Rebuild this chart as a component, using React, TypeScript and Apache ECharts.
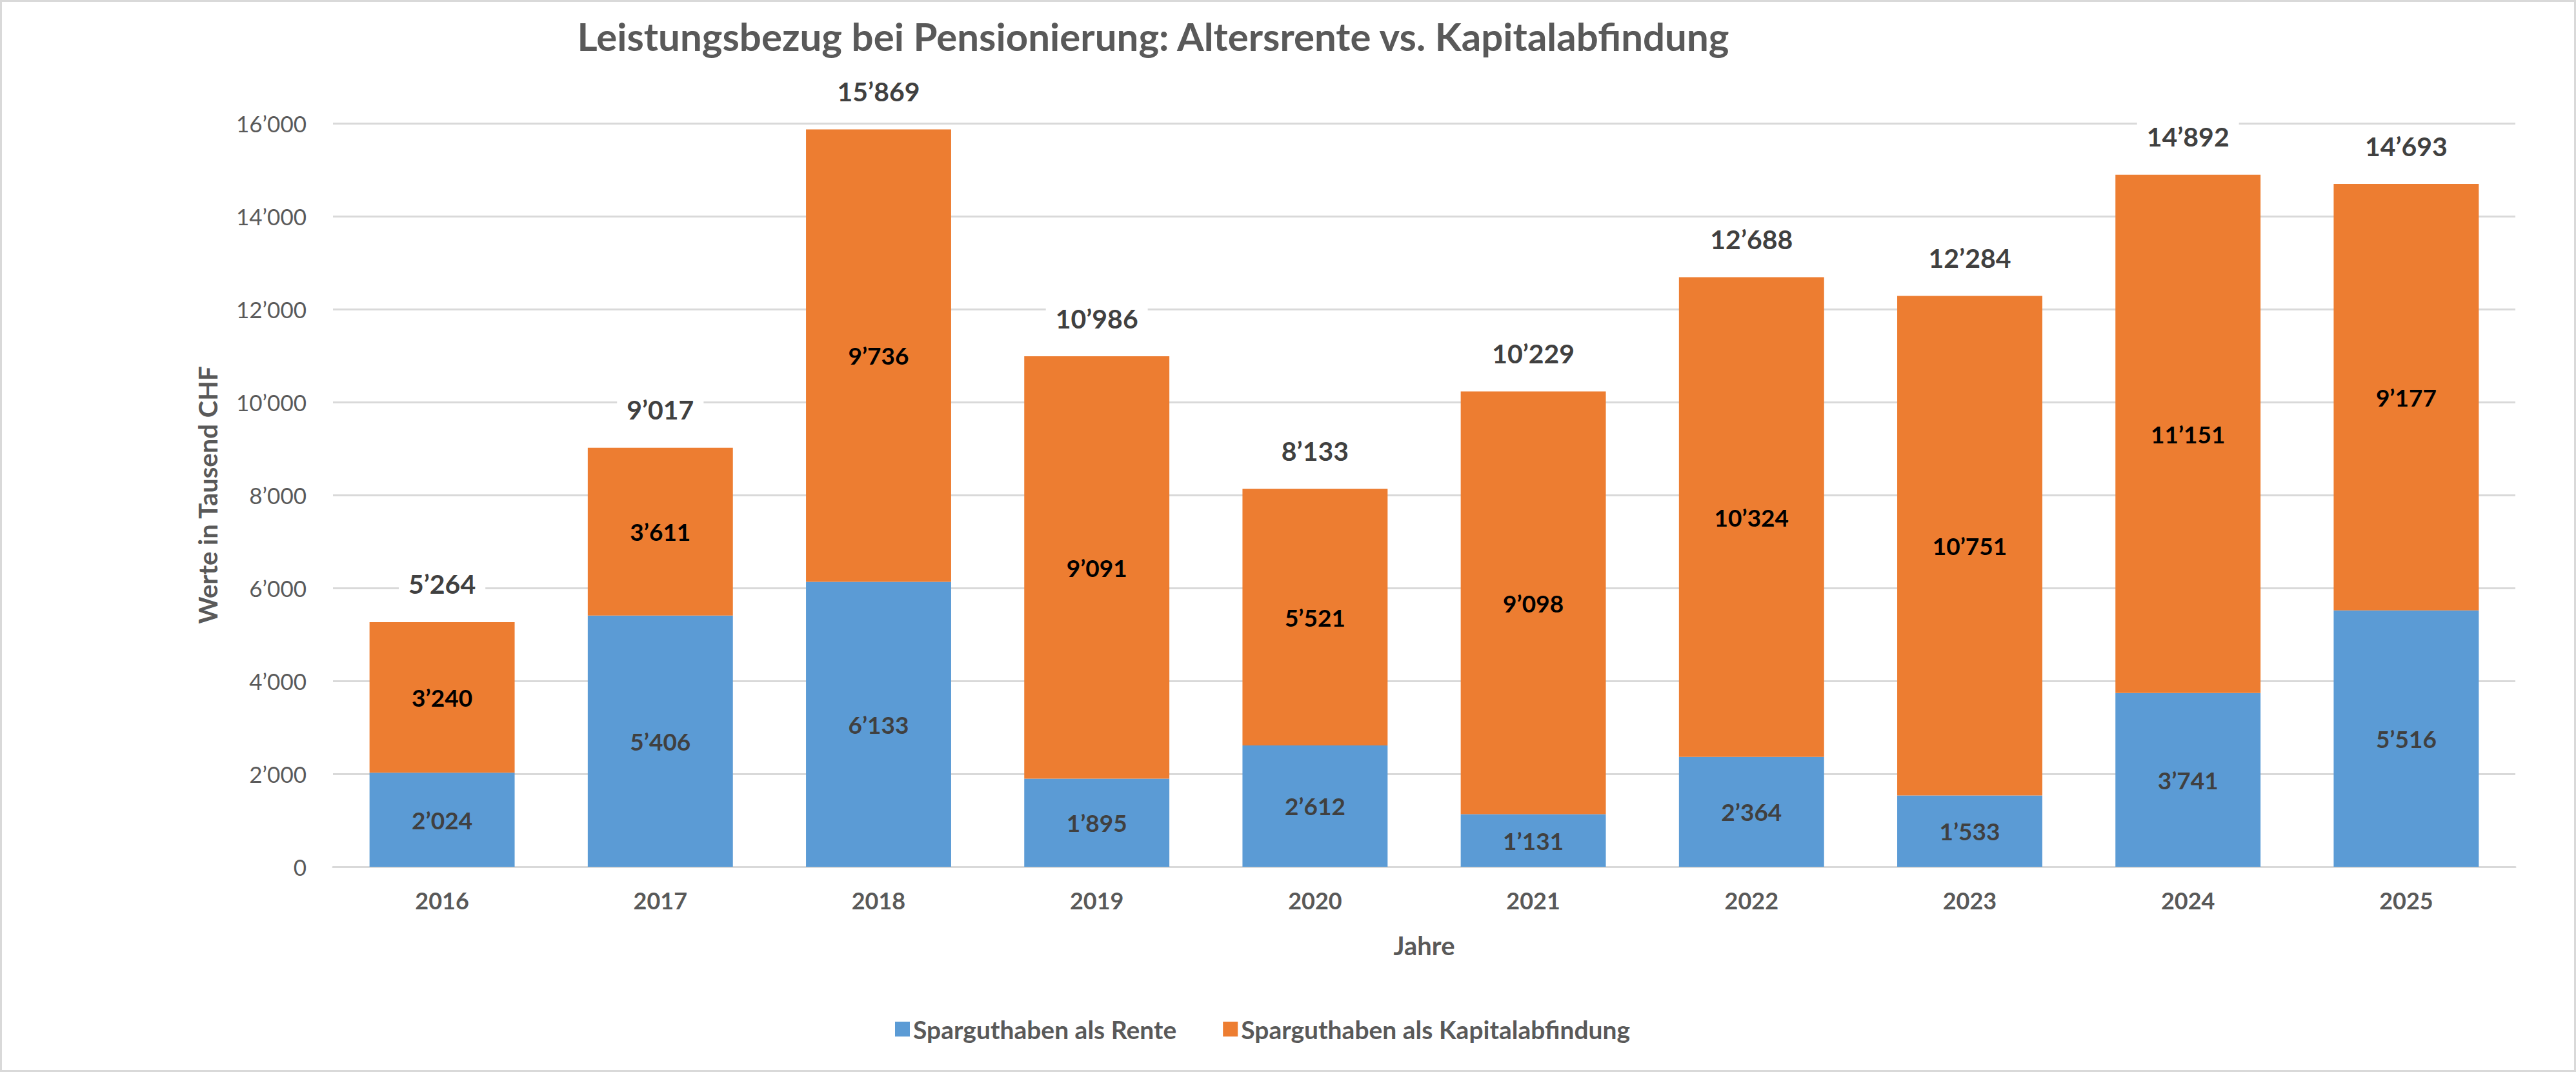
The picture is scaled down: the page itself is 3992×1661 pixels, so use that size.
import React, { useEffect, useRef } from "react";
import * as echarts from "echarts";

const years = ["2016", "2017", "2018", "2019", "2020", "2021", "2022", "2023", "2024", "2025"];
const rente = [2024, 5406, 6133, 1895, 2612, 1131, 2364, 1533, 3741, 5516];
const kapital = [3240, 3611, 9736, 9091, 5521, 9098, 10324, 10751, 11151, 9177];
const totals = rente.map((v, i) => v + kapital[i]);
const totalsCarrier = years.map(() => 0);

const yTicks = { min: 0, max: 16000, interval: 2000 };

const fmt = (v: number) => String(v).replace(/\B(?=(\d{3})+(?!\d))/g, "\u2019");

const FONT = "Lato, 'Open Sans', 'Noto Sans', sans-serif";
const AXIS_GREY = "#595959";
const LABEL_GREY = "#404040";

export default function App() {
  const ref = useRef<HTMLDivElement>(null);
  useEffect(() => {
    document.body.style.margin = "0";
    document.body.style.overflow = "hidden";
    const chart = echarts.init(ref.current!, undefined, { renderer: "svg" });
    chart.setOption({
      animation: false,
      backgroundColor: "#ffffff",
      title: {
        text: "Leistungsbezug bei Pensionierung: Altersrente vs. Kapitalabfindung",
        left: 1782,
        top: 51,
        textAlign: "center",
        textVerticalAlign: "middle",
        textStyle: { fontFamily: FONT, fontWeight: "bold", fontSize: 60, color: AXIS_GREY },
      },
      graphic: [
        {
          type: "rect",
          silent: true,
          shape: { x: 1.5, y: 1.5, width: 3989, height: 1658 },
          style: { fill: "none", stroke: "#d9d9d9", lineWidth: 3 },
        },
      ],
      legend: {
        left: 1382,
        top: 1570,
        itemWidth: 23,
        itemHeight: 23,
        itemGap: 72,
        icon: "rect",
        data: ["Sparguthaben als Rente", "Sparguthaben als Kapitalabfindung"],
        textStyle: { fontFamily: FONT, fontWeight: "bold", fontSize: 39, color: AXIS_GREY },
      },
      grid: { left: 516, right: 94, top: 191, bottom: 318, containLabel: false },
      xAxis: {
        type: "category",
        data: years,
        axisTick: { show: false },
        axisLine: { lineStyle: { color: "#d9d9d9", width: 3 } },
        axisLabel: { margin: 34, fontFamily: FONT, fontWeight: "bold", fontSize: 36, color: AXIS_GREY },
        name: "Jahre",
        nameLocation: "middle",
        nameGap: 102,
        nameTextStyle: { fontFamily: FONT, fontWeight: "bold", fontSize: 40, color: AXIS_GREY },
      },
      yAxis: {
        type: "value",
        min: yTicks.min,
        max: yTicks.max,
        interval: yTicks.interval,
        axisLine: { show: false },
        axisTick: { show: false },
        splitLine: { lineStyle: { color: "#d9d9d9", width: 3 } },
        axisLabel: {
          margin: 41,
          fontFamily: FONT,
          fontSize: 35,
          color: AXIS_GREY,
          formatter: (v: number) => fmt(v),
        },
        name: "Werte in Tausend CHF",
        nameLocation: "middle",
        nameRotate: 90,
        nameGap: 174,
        nameTextStyle: { fontFamily: FONT, fontWeight: "bold", fontSize: 40, color: AXIS_GREY },
      },
      series: [
        {
          name: "Sparguthaben als Rente",
          type: "bar",
          stack: "total",
          barWidth: "66.5%",
          data: rente,
          itemStyle: { color: "#5B9BD5" },
          label: {
            show: true,
            position: "inside",
            fontFamily: FONT,
            fontWeight: "bold",
            fontSize: 37,
            color: LABEL_GREY,
            formatter: (p: any) => fmt(p.value),
          },
        },
        {
          name: "Sparguthaben als Kapitalabfindung",
          type: "bar",
          stack: "total",
          barWidth: "66.5%",
          data: kapital,
          itemStyle: { color: "#ED7D31" },
          label: {
            show: true,
            position: "inside",
            fontFamily: FONT,
            fontWeight: "bold",
            fontSize: 37,
            color: "#000000",
            formatter: (p: any) => fmt(p.value),
          },
        },
        {
          name: "Total",
          type: "bar",
          stack: "total",
          barWidth: "66.5%",
          data: totalsCarrier,
          itemStyle: { color: "rgba(0,0,0,0)" },
          z: 10,
          label: {
            show: true,
            position: "top",
            distance: 29,
            fontFamily: FONT,
            fontWeight: "bold",
            fontSize: 41,
            lineHeight: 48,
            color: LABEL_GREY,
            backgroundColor: "#ffffff",
            padding: [6, 15],
            formatter: (p: any) => fmt(totals[p.dataIndex]),
          },
        },
      ],
    });
    return () => chart.dispose();
  }, []);
  return <div ref={ref} style={{ width: 3992, height: 1661 }} />;
}
